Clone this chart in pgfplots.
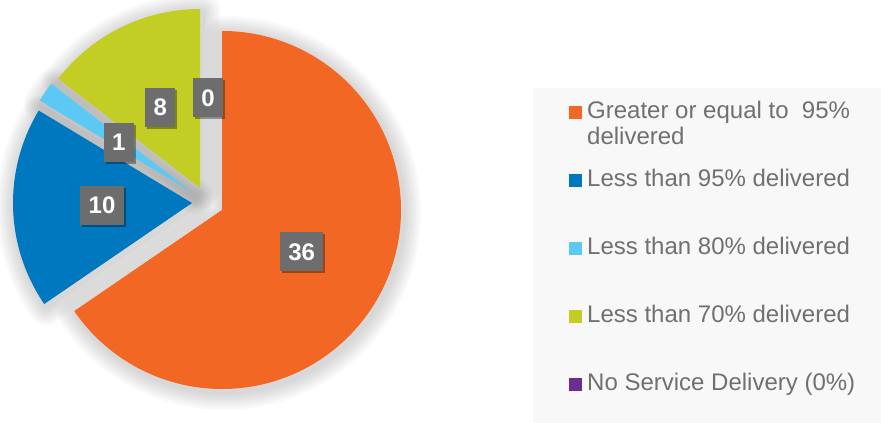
\documentclass[border=0pt]{standalone}
\usepackage{fontspec}
\setmainfont{Liberation Sans}
\usepackage{pgfplots}
\pgfplotsset{compat=1.18}
\usepackage{pgfplotstable}
\usetikzlibrary{shadows}

\definecolor{pieorange}{HTML}{F26724}
\definecolor{pieblue}{HTML}{0078C0}
\definecolor{piecyan}{HTML}{5BC9F4}
\definecolor{piegreen}{HTML}{C2CE23}
\definecolor{piepurple}{HTML}{6B2D90}
\definecolor{lblgray}{HTML}{6D6D6D}
\definecolor{legtext}{HTML}{707070}
\definecolor{legbg}{HTML}{F8F8F8}

% value, slice centre (exploded), colour
\pgfplotstableread{
value cx cy color
36 222 213 pieorange
10 192 220 pieblue
1 193 230 piecyan
8 200 235 piegreen
0 208 235 piepurple
}\piedata

\begin{document}
\begin{tikzpicture}[
  lbl/.style={fill=lblgray, text=white, font=\bfseries\fontsize{24}{24}\selectfont,
    inner xsep=8.5pt, inner ysep=0pt, minimum height=39pt,
    drop shadow={shadow xshift=2pt, shadow yshift=-2pt, opacity=0.35, fill=black}}]
\begin{axis}[
  x=1pt, y=1pt, xmin=0, xmax=881, ymin=0, ymax=423,
  hide axis, clip=false,
  legend cell align=left,
  legend image code/.code={\fill[#1] (0pt,-6.5pt) rectangle (13pt,6.5pt);},
  legend style={at={(axis cs:569,321.5)}, anchor=north west, draw=none, fill=none,
    inner sep=0pt, font=\fontsize{24}{26}\selectfont, text=legtext,
    row sep=46pt, column sep=5pt,
    nodes={inner sep=0pt, text height=17pt, text depth=5pt}},
]
\coordinate (SW) at (axis cs:0,0);
\coordinate (NE) at (axis cs:881,423);
\fill[legbg] (axis cs:533,0) rectangle (axis cs:881,335);

\pgfmathsetmacro\total{0}
\pgfplotsforeachungrouped \i in {0,...,4}{%
  \pgfplotstablegetelem{\i}{value}\of\piedata
  \pgfmathsetmacro\total{\total+\pgfplotsretval}%
}

% soft shadow under the slices
\pgfmathsetmacro\cum{0}
\pgfplotsforeachungrouped \i in {0,...,4}{%
  \pgfplotstablegetelem{\i}{value}\of\piedata \let\sv\pgfplotsretval
  \pgfplotstablegetelem{\i}{cx}\of\piedata \let\scx\pgfplotsretval
  \pgfplotstablegetelem{\i}{cy}\of\piedata \let\scy\pgfplotsretval
  \pgfmathsetmacro\as{90-\cum/\total*360}%
  \pgfmathsetmacro\ae{90-(\cum+\sv)/\total*360}%
  \pgfmathsetmacro\cum{\cum+\sv}%
  \pgfmathsetmacro\shx{\scx+2}%
  \pgfmathsetmacro\shy{\scy-3}%
  \ifdim\sv pt>0pt
    \pgfplotsforeachungrouped \w in {36,31,26,21,16,11,6}{%
      \edef\cmd{\noexpand\draw[black, opacity=0.022, line width=\w pt, line join=round]
        (axis cs:\shx,\shy) -- ++(\as:179pt) arc[start angle=\as, end angle=\ae, radius=179pt] -- cycle;}%
      \cmd
    }%
  \fi
}

% slices
\pgfmathsetmacro\cum{0}
\pgfplotsforeachungrouped \i in {0,...,4}{%
  \pgfplotstablegetelem{\i}{value}\of\piedata \let\sv\pgfplotsretval
  \pgfplotstablegetelem{\i}{cx}\of\piedata \let\scx\pgfplotsretval
  \pgfplotstablegetelem{\i}{cy}\of\piedata \let\scy\pgfplotsretval
  \pgfplotstablegetelem{\i}{color}\of\piedata \let\scol\pgfplotsretval
  \pgfmathsetmacro\as{90-\cum/\total*360}%
  \pgfmathsetmacro\ae{90-(\cum+\sv)/\total*360}%
  \pgfmathsetmacro\cum{\cum+\sv}%
  \ifdim\sv pt>0pt
    \edef\cmd{\noexpand\fill[\scol]
      (axis cs:\scx,\scy) -- ++(\as:179pt) arc[start angle=\as, end angle=\ae, radius=179pt] -- cycle;}%
    \cmd
  \fi
}

% value labels
\pgfmathsetmacro\cum{0}
\pgfplotsforeachungrouped \i in {0,...,4}{%
  \pgfplotstablegetelem{\i}{value}\of\piedata \let\sv\pgfplotsretval
  \pgfplotstablegetelem{\i}{cx}\of\piedata \let\scx\pgfplotsretval
  \pgfplotstablegetelem{\i}{cy}\of\piedata \let\scy\pgfplotsretval
  \pgfmathsetmacro\mid{90-(\cum+\sv/2)/\total*360}%
  \pgfmathsetmacro\cum{\cum+\sv}%
  \pgfmathsetmacro\lx{\scx+90*cos(\mid)}%
  \pgfmathsetmacro\ly{\scy+90*sin(\mid)}%
  \edef\cmd{\noexpand\node[lbl] at (axis cs:\lx,\ly) {\sv};}%
  \cmd
}

\addlegendimage{fill=pieorange, draw=none}
\addlegendentry{\parbox[t]{300pt}{Greater or equal to\ \ 95\%\\delivered}}
\addlegendimage{fill=pieblue, draw=none}
\addlegendentry{Less than 95\% delivered}
\addlegendimage{fill=piecyan, draw=none}
\addlegendentry{Less than 80\% delivered}
\addlegendimage{fill=piegreen, draw=none}
\addlegendentry{Less than 70\% delivered}
\addlegendimage{fill=piepurple, draw=none}
\addlegendentry{No Service Delivery (0\%)}
\end{axis}
\pgfresetboundingbox
\path[use as bounding box] (SW) rectangle (NE);
\end{tikzpicture}
\end{document}
